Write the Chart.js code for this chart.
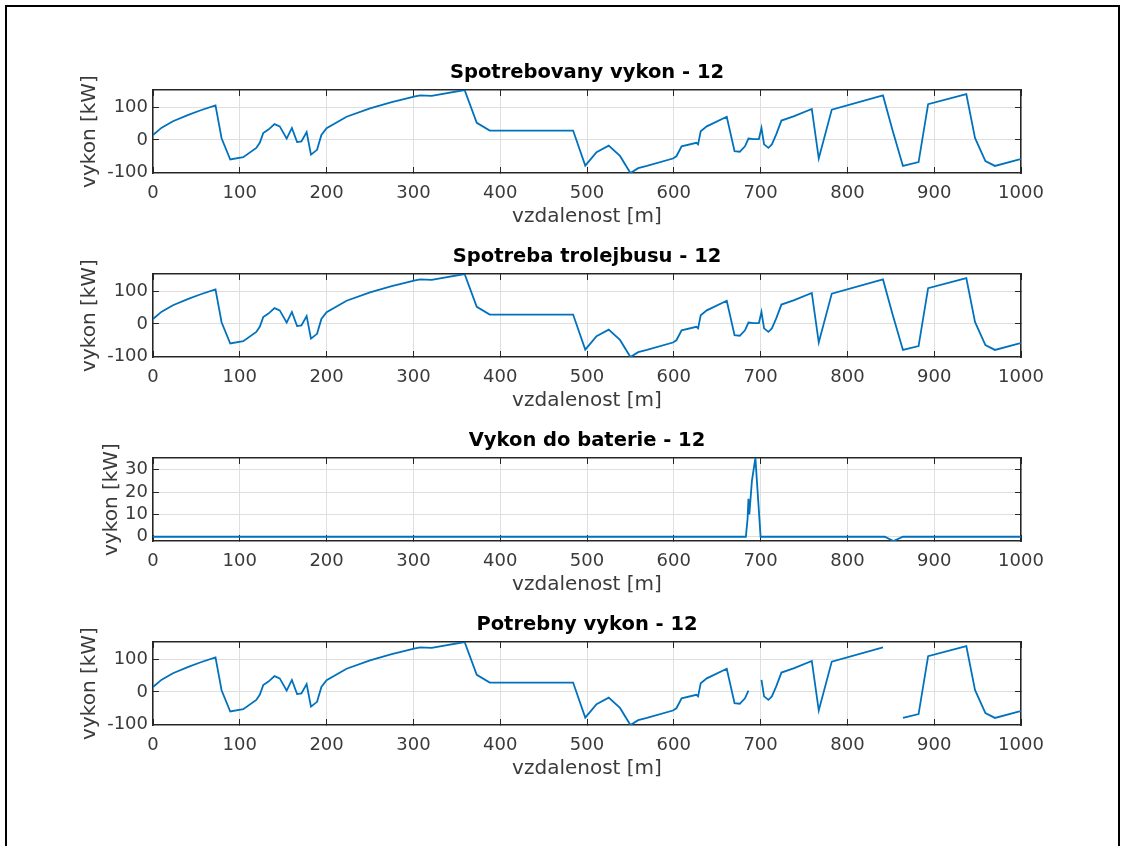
<!DOCTYPE html>
<html>
<head>
<meta charset="utf-8">
<script src="https://cdn.jsdelivr.net/npm/chart.js@4"></script>
<style>
  html, body { margin: 0; padding: 0; background: #fff; }
  body { width: 1121px; height: 846px; position: relative; overflow: hidden; }
  #frame { position: absolute; left: 5px; top: 5px; width: 1111px; height: 900px;
           border: 2px solid #000; border-bottom: none; }
  canvas { position: absolute; left: 0; }
</style>
</head>
<body>
<div id="frame"></div>
<canvas id="c1" width="1121" height="183" style="top:50px"></canvas>
<canvas id="c2" width="1121" height="183" style="top:234px"></canvas>
<canvas id="c3" width="1121" height="183" style="top:418px"></canvas>
<canvas id="c4" width="1121" height="183" style="top:602px"></canvas>
<script>
// vzdalenost [m] a vykon [kW]
const vzdalenost = [0, 10, 23, 40, 55, 72, 79, 89, 104, 119, 123, 127, 133, 140, 146, 154, 160, 166,
  171, 177, 182, 189, 194, 200, 223, 250, 275, 302, 308, 321, 359, 373, 388, 484, 498, 511,
  525, 538, 550, 559, 569, 599, 603, 609, 626, 628, 631, 638, 661, 670, 676, 682, 686, 692,
  698, 701, 704, 709, 713, 718, 724, 738, 759, 767, 782, 841, 852, 864, 882, 893, 937, 947,
  959, 970, 995, 1000];

const spotrebovanyVykon = [15, 38, 58, 77, 92, 107, 5, -61, -54, -25, -9, 21, 32, 49, 42, 4, 37, -7,
  -5, 24, -46, -31, 15, 36, 72, 98, 117, 135, 138, 137, 155, 53, 29, 29, -80, -38,
  -18, -50, -103, -88, -81, -58, -51, -20, -9, -14, 27, 42, 72, -35, -37, -20, 4, 2,
  2, 37, -14, -25, -14, 17, 60, 73, 96, -58, 94, 138, 30, -81, -69, 111, 142, 6,
  -66, -81, -63, -60];

const spotrebaTrolejbusu = [15, 38, 58, 77, 92, 107, 5, -61, -54, -25, -9, 21, 32, 49, 42, 4, 37, -7,
  -5, 24, -46, -31, 15, 36, 72, 98, 117, 135, 138, 137, 155, 53, 29, 29, -80, -38,
  -18, -50, -103, -88, -81, -58, -51, -20, -9, -14, 27, 42, 72, -35, -37, -20, 4, 2,
  2, 37, -14, -25, -14, 17, 60, 73, 96, -58, 94, 138, 30, -81, -69, 111, 142, 6,
  -66, -81, -63, -60];

// null = mezera v grafu
const potrebnyVykon = [15, 38, 58, 77, 92, 107, 5, -61, -54, -25, -9, 21, 32, 49, 42, 4, 37, -7,
  -5, 24, -46, -31, 15, 36, 72, 98, 117, 135, 138, 137, 155, 53, 29, 29, -80, -38,
  -18, -50, -103, -88, -81, -58, -51, -20, -9, -14, 27, 42, 72, -35, -37, -20, 4, null,
  null, 37, -14, -25, -14, 17, 60, 73, 96, -58, 94, 138, null, -81, -69, 111, 142, 6,
  -66, -81, -63, -60];

const bateriaDist = [0, 683, 685, 686, 687, 690, 694, 700, 843, 853, 864, 1000];
const vykonDoBaterie = [0, 0, 8, 17, 10, 25, 35.2, 0, 0, -1.9, 0, 0];

const xTicks = { min: 0, max: 1000, step: 100 };

const FONT = 'DejaVu Sans';
const AXIS = '#262626';
const LABEL = '#3a3a3a';
const GRID = '#dfdfdf';
const LINE = '#0072BD';

function points(xs, ys) {
  return xs.map((x, i) => ({ x: x, y: ys[i] }));
}

function makeChart(id, title, xs, ys, yStep, yTitlePad) {
  const vals = ys.filter(v => v !== null);
  const yMin = Math.min(...vals);
  const yMax = Math.max(...vals);
  const tickFont = { family: FONT, size: 18 };
  const plain = v => String(v);
  return new Chart(document.getElementById(id), {
    type: 'line',
    data: {
      datasets: [{
        data: points(xs, ys),
        borderColor: LINE,
        borderWidth: 1.8,
        pointRadius: 0,
        tension: 0,
        spanGaps: false,
        fill: false
      }]
    },
    options: {
      responsive: false,
      animation: false,
      devicePixelRatio: 1,
      layout: { padding: { left: 78, right: 25, top: 0, bottom: 0 } },
      plugins: {
        legend: { display: false },
        tooltip: { enabled: false },
        title: {
          display: true,
          text: title,
          color: '#000',
          font: { family: FONT, size: 19.5, weight: 'bold' },
          padding: { top: 10.8, bottom: 5.8 }
        }
      },
      scales: {
        x: {
          type: 'linear', position: 'bottom',
          min: xTicks.min, max: xTicks.max,
          ticks: { stepSize: xTicks.step, color: LABEL, font: tickFont, padding: 16,
                   maxRotation: 0, autoSkip: false, callback: plain },
          grid: { color: GRID, tickColor: AXIS, tickLength: -6 },
          border: { color: AXIS, width: 1.5 },
          title: { display: true, text: 'vzdalenost [m]', color: LABEL,
                   font: { family: FONT, size: 20 }, padding: { top: 0, bottom: 4 } },
          afterFit: s => { s.height = 60; }
        },
        x2: {
          type: 'linear', position: 'top',
          min: xTicks.min, max: xTicks.max,
          ticks: { stepSize: xTicks.step, display: false },
          grid: { drawOnChartArea: false, tickColor: AXIS, tickLength: -6 },
          border: { color: AXIS, width: 1.5 },
          afterFit: s => { s.height = 0; }
        },
        y: {
          position: 'left',
          min: yMin, max: yMax,
          ticks: { stepSize: yStep, includeBounds: false, color: LABEL, font: tickFont,
                   padding: 11, callback: plain },
          grid: { color: GRID, tickColor: AXIS, tickLength: -6 },
          border: { color: AXIS, width: 1.5 },
          title: { display: true, text: 'vykon [kW]', color: LABEL,
                   font: { family: FONT, size: 20 }, padding: { top: yTitlePad, bottom: 0 } },
          afterFit: s => { s.width = 75; }
        },
        y2: {
          position: 'right',
          min: yMin, max: yMax,
          ticks: { stepSize: yStep, includeBounds: false, display: false },
          grid: { drawOnChartArea: false, tickColor: AXIS, tickLength: -6 },
          border: { color: AXIS, width: 1.5 },
          afterFit: s => { s.width = 75; }
        }
      }
    }
  });
}

makeChart('c1', 'Spotrebovany vykon - 12', vzdalenost, spotrebovanyVykon, 100, 0);
makeChart('c2', 'Spotreba trolejbusu - 12', vzdalenost, spotrebaTrolejbusu, 100, 0);
makeChart('c3', 'Vykon do baterie - 12', bateriaDist, vykonDoBaterie, 10, 22);
makeChart('c4', 'Potrebny vykon - 12', vzdalenost, potrebnyVykon, 100, 0);
</script>
</body>
</html>
